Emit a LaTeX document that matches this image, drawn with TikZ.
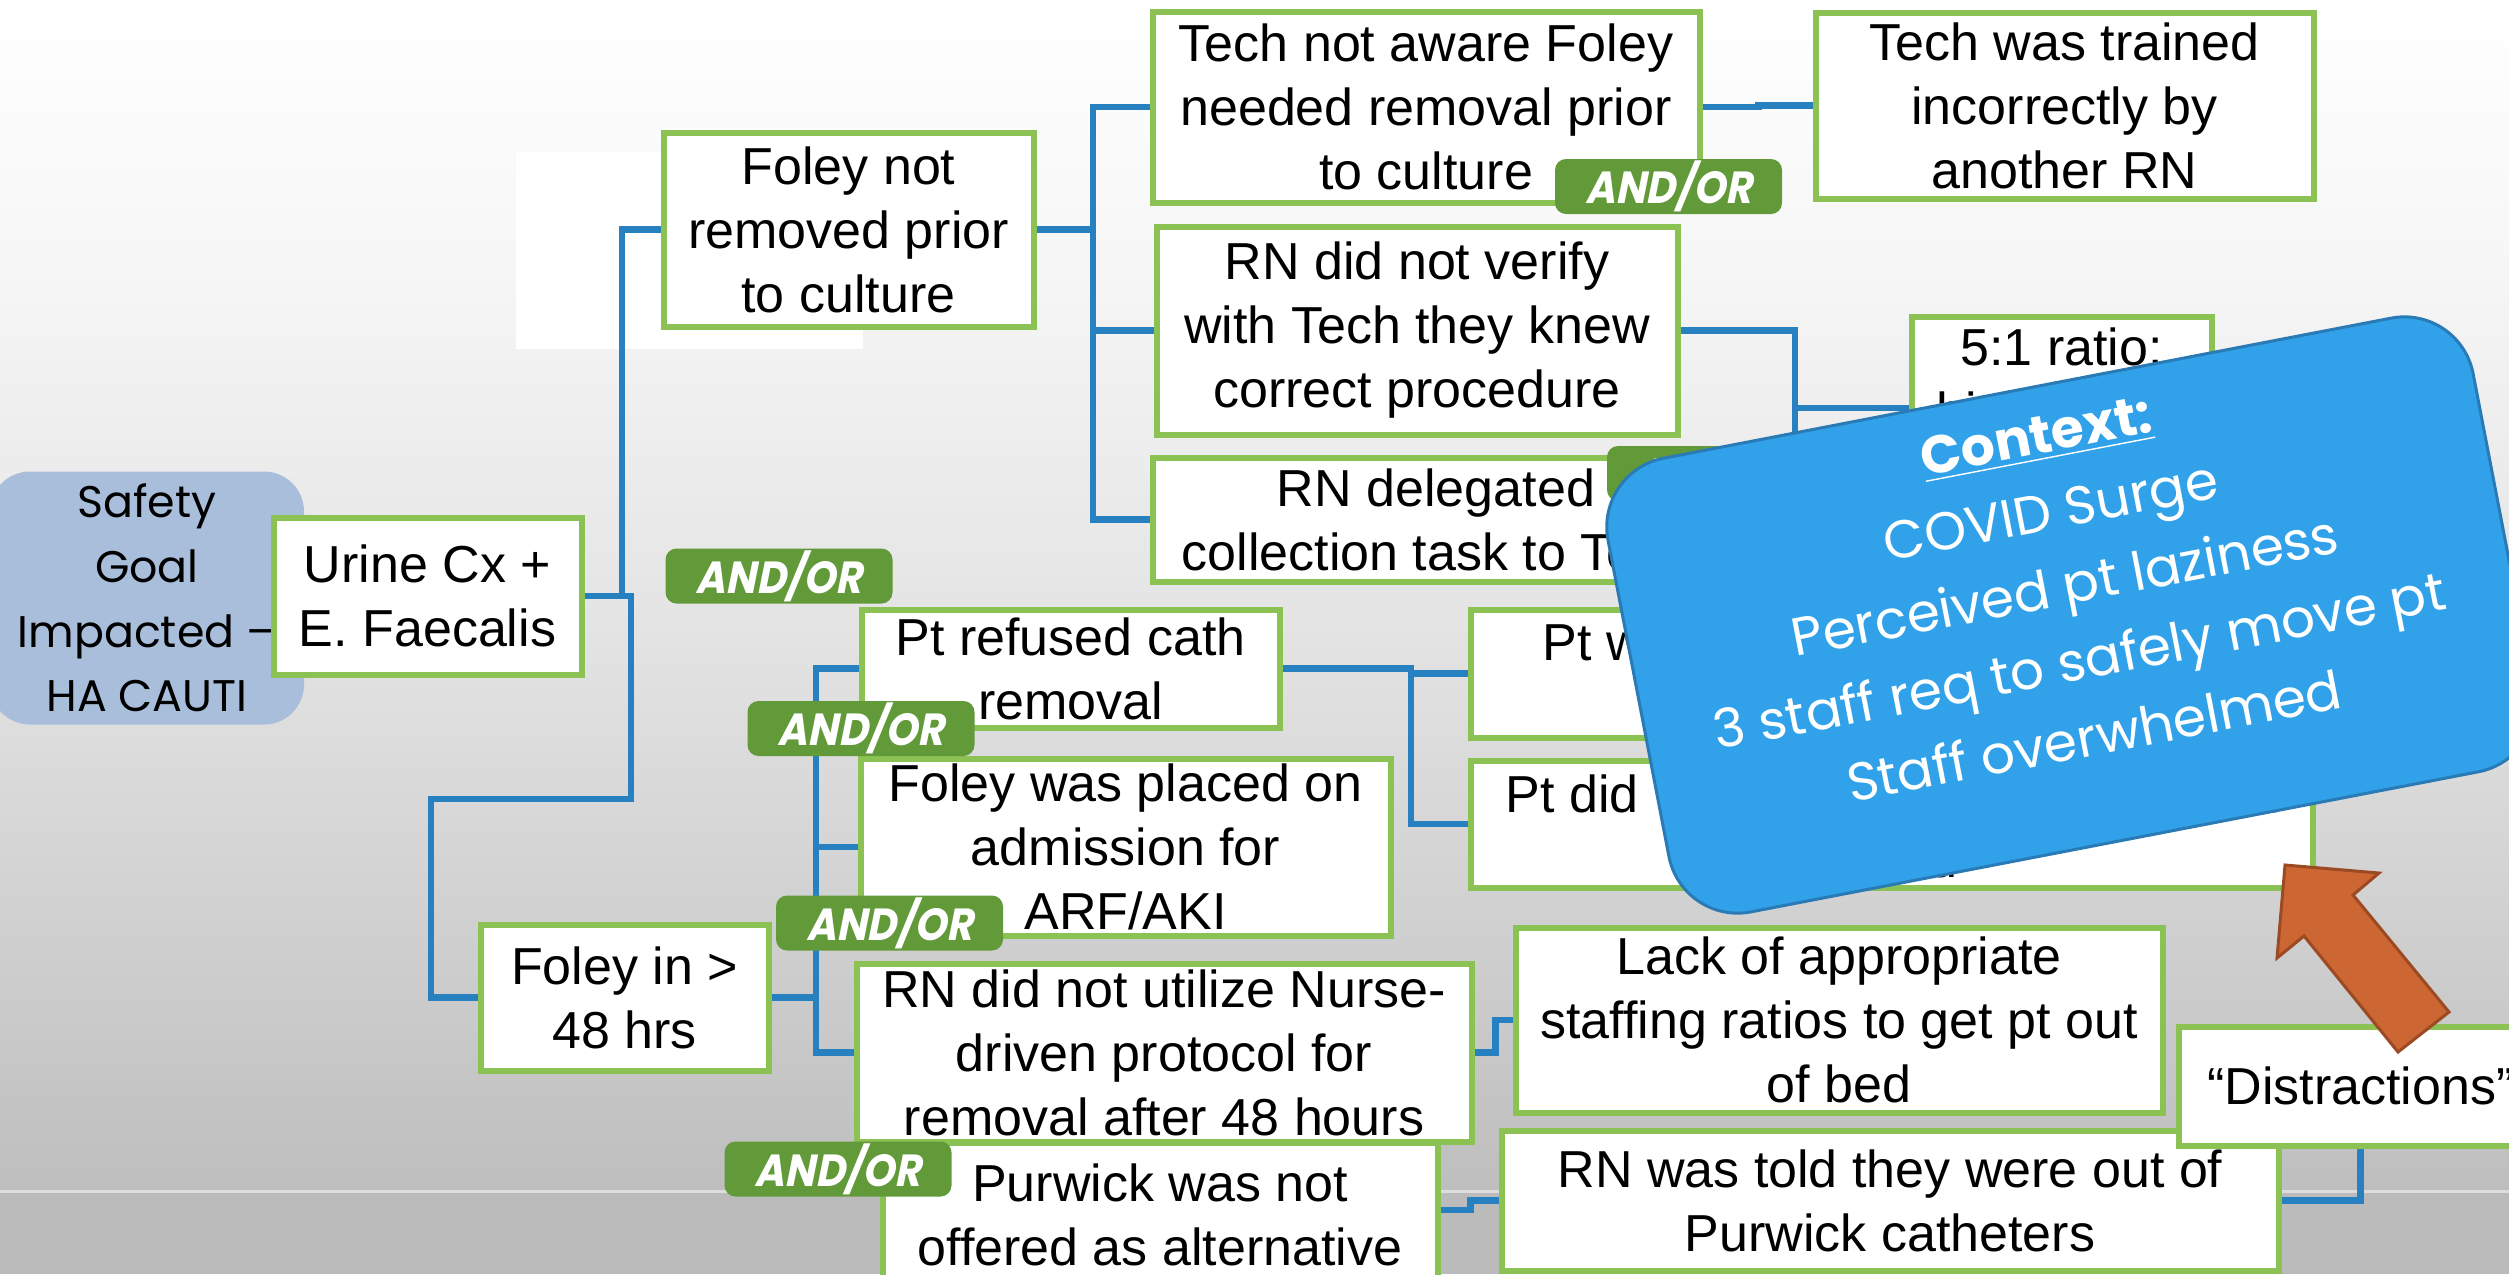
\documentclass[tikz,border=0pt]{standalone}
\usepackage{fontspec}
\setmainfont{Liberation Sans}
\newfontfamily\gothic{Poppins}
\newfontfamily\andorfont{Poppins}[FakeSlant=0.2, FakeStretch=0.9]
\definecolor{boxgreen}{HTML}{8CC254}
\definecolor{andgreen}{HTML}{629A3A}
\definecolor{linkblue}{HTML}{2780C0}
\definecolor{safetyblue}{HTML}{A9BEDA}
\definecolor{ctxblue}{HTML}{31A2EA}
\definecolor{ctxedge}{HTML}{2A7AB5}
\definecolor{arrowfill}{HTML}{CC6633}
\definecolor{arrowedge}{HTML}{9C4A24}
\definecolor{bgA}{HTML}{F7F7F7}
\definecolor{bgB}{HTML}{E3E3E3}
\definecolor{bgC}{HTML}{BEBEBE}
\definecolor{bgD}{HTML}{BBBBBB}
\definecolor{bgLine}{HTML}{DDDDDD}
\tikzset{
  causebox/.style={draw=boxgreen, line width=0.6mm, fill=white, align=center,
    inner sep=0pt, text=black, font=\fontsize{14.8pt}{18.2pt}\selectfont},
  andor/.style={fill=andgreen, rounded corners=1.1mm, minimum width=22.7mm,
    minimum height=5.5mm, inner sep=0pt, text=white,
    font={\andorfont\bfseries\fontsize{12.8pt}{14pt}\selectfont}},
  link/.style={draw=linkblue, line width=0.65mm},
  frag/.style={inner sep=0pt, text=black, font=\fontsize{14.8pt}{18.2pt}\selectfont},
}
\begin{document}
\begin{tikzpicture}[x=0.1mm, y=-0.1mm]
\useasboundingbox (0,0) rectangle (2509,1274);
\clip (0,0) rectangle (2509,1274);
% background
\shade[top color=white, bottom color=bgA] (0,0) rectangle (2509,251);
\shade[top color=bgA, bottom color=bgB] (0,250) rectangle (2509,641);
\shade[top color=bgB, bottom color=bgC] (0,640) rectangle (2509,1192);
\fill[bgD] (0,1191) rectangle (2509,1274);
\draw[bgLine, line width=0.3mm] (0,1191) -- (2509,1191);
\fill[white] (516,152) rectangle (863,349);

% main nodes
\node[fill=safetyblue, rounded corners=4mm, minimum width=31.4mm, minimum height=25.3mm,
  align=center, inner sep=0pt, font=\gothic\fontsize{12.6pt}{18.4pt}\selectfont]
  (safety) at (147,598) {Safety\\Goal\\Impacted –\\HA CAUTI};
\node[causebox, minimum width=30.8mm, minimum height=15.7mm] (urine) at (427.5,596) {Urine Cx +\\E. Faecalis};
\node[causebox, minimum width=37.0mm, minimum height=19.4mm] (foleynot) at (848.5,229.5) {Foley not\\removed prior\\to culture};
\node[causebox, minimum width=28.8mm, minimum height=14.6mm] (foley48) at (624.5,997.5) {Foley in >\\48 hrs};

% junction points
\coordinate (j1) at (622,596);
\coordinate (j2) at (631,799);
\coordinate (j3) at (431,799);
\coordinate (b1) at (1093,229.5);
\coordinate (b2) at (1795,330.5);
\coordinate (b2end) at (1795,480);
\coordinate (b3) at (816,997.5);
\coordinate (b4) at (1411,668.5);

\node[causebox, minimum width=54.7mm, minimum height=19.1mm] (techaware) at (1426,107) {Tech not aware Foley\\needed removal prior\\to culture};
\node[causebox, minimum width=49.8mm, minimum height=18.6mm] (techtrained) at (2064.5,105.5) {Tech was trained\\incorrectly by\\another RN};
\node[causebox, minimum width=52.1mm, minimum height=20.8mm] (rnverify) at (1417,330.5) {RN did not verify\\with Tech they knew\\correct procedure};
\node[causebox, minimum width=56.7mm, minimum height=12.4mm] (rndeleg) at (1436,519.5) {RN delegated\\collection task to Tech};
\node[causebox, minimum width=30.0mm, minimum height=18.3mm] (ratio) at (2061.5,408) {};
\node[causebox, minimum width=41.8mm, minimum height=11.8mm] (ptrefused) at (1070.5,668.5) {Pt refused cath\\removal};
\node[causebox, minimum width=84.2mm, minimum height=12.8mm] (ptw) at (1891.5,673.5) {};
\node[causebox, minimum width=84.2mm, minimum height=12.7mm] (ptdid) at (1891.5,824) {};
\node[causebox, minimum width=53.0mm, minimum height=17.7mm] (foleyplaced) at (1125.5,847) {Foley was placed on\\admission for\\ARF/AKI};
\node[causebox, minimum width=61.5mm, minimum height=17.8mm] (rnutil) at (1164,1052.5) {RN did not utilize Nurse-\\driven protocol for\\removal after 48 hours};
\node[causebox, minimum width=55.5mm, minimum height=14.5mm] (purwick) at (1160,1215) {Purwick was not\\offered as alternative};
\node[causebox, minimum width=64.7mm, minimum height=18.5mm] (lack) at (1839,1020) {Lack of appropriate\\staffing ratios to get pt out\\of bed};
\node[causebox, minimum width=77.7mm, minimum height=14.0mm] (rntold) at (1890,1200.5) {RN was told they were out of\\Purwick catheters};
\node[causebox, minimum width=36.4mm, minimum height=11.9mm] (distract) at (2360.5,1086) {“Distractions”};

% fragments of partly hidden texts
\node[frag, anchor=base] (ratiotext) at (2061.5,365) {5:1 ratio:};
\node[frag, anchor=base west] (ratiohi) at (1936,429) {hi};
\node[frag, anchor=base west] (ptwtext) at (1542,660) {Pt w};
\node[frag, anchor=base west] (ptdidtext) at (1505,812) {Pt did};
\node[frag, anchor=base east] (ptdidt) at (2280,812) {t};
\node[frag, anchor=base west] (ptdidd) at (1928,877) {d};

% connectors
\draw[link] (urine.east) -- (j1) |- (foleynot.west);
\draw[link] (urine.east) -| (j2) -- (j3) |- (foley48.west);
\draw[link] (foleynot.east) -- (b1) |- (techaware.west) (b1) |- (rnverify.west) (b1) |- (rndeleg.west);
\draw[link] (techaware.east) -- ++(56,0) |- (techtrained.west);
\draw[link] (rnverify.east) -- (b2) |- (ratio.west) (b2) -- (b2end);
\draw[link] (foley48.east) -- (b3) |- (ptrefused.west) (b3) |- (foleyplaced.west) (b3) |- (rnutil.west);
\draw[link] (ptrefused.east) -- (b4) |- (ptw.west) (b4) |- (ptdid.west);
\draw[link] (rnutil.east) -- ++(21,0) |- (lack.west);
\draw[link] (purwick.east) ++(0,-5) -- ++(30,0) |- (rntold.west);
\draw[link] (distract.south) |- (rntold.east);

% AND/OR badges
\node[andor] (ao1) at (779,576) {AND/OR};
\node[andor] (ao2) at (1668.5,186.5) {AND/OR};
\node[andor] (ao3) at (1720.5,473.5) {AND/OR};
\node[andor] (ao4) at (861,728.5) {AND/OR};
\node[andor] (ao5) at (889.5,923) {AND/OR};
\node[andor] (ao6) at (838,1169) {AND/OR};

% context call-out
\node[fill=ctxblue, draw=ctxedge, line width=0.3mm, rounded corners=7mm,
  minimum width=88.1mm, minimum height=46.2mm, rotate=10.9] (ctx) at (2071,615) {};
\node[rotate=10.9, text=white, align=center, inner sep=0pt,
  font=\gothic\fontsize{15.2pt}{21.8pt}\selectfont] (ctxtext) at (2065,586)
  {{\bfseries\underline{Context:}}\\COVID Surge\\Perceived pt laziness\\3 staff req to safely move pt\\Staff overwhelmed};

% orange arrow
\draw[fill=arrowfill, draw=arrowedge, line width=0.3mm, line join=miter]
  (2285,865) -- (2379,873) -- (2353,895) -- (2449,1012) -- (2398,1052)
  -- (2304,936) -- (2277,958) -- cycle;
\end{tikzpicture}
\end{document}
